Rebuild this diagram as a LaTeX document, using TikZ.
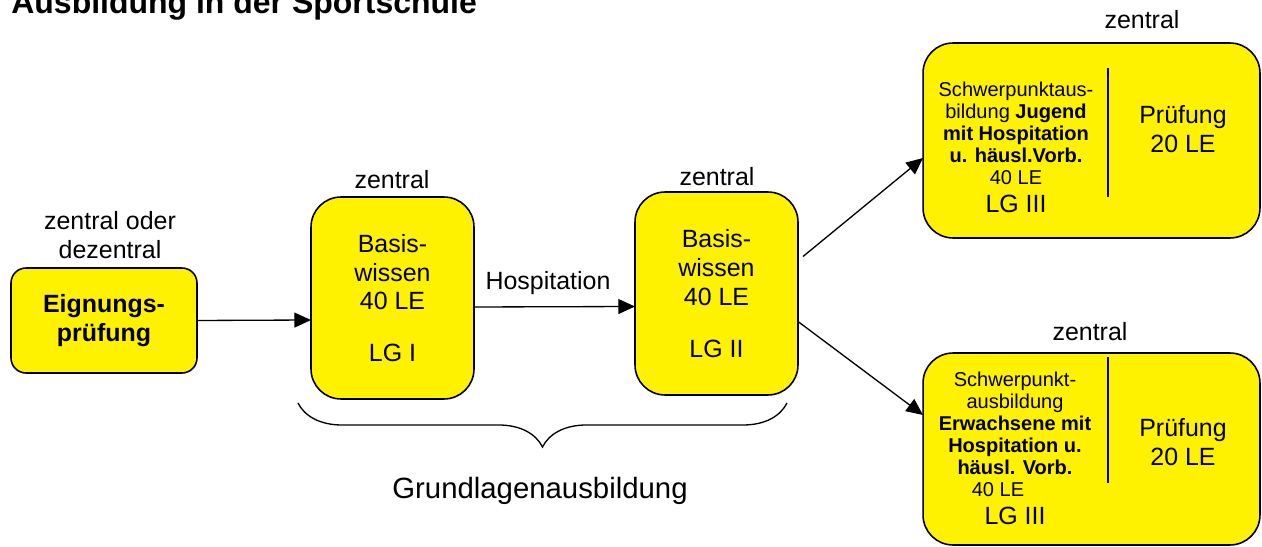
\documentclass[tikz,border=0pt]{standalone}
\usepackage{fontspec}
\setmainfont{Liberation Sans}
\usetikzlibrary{arrows.meta}
\usetikzlibrary{decorations.pathreplacing}
\usetikzlibrary{positioning}
\tikzset{box/.style = {draw, line width=0.9pt, fill=yellow, rounded corners=0.6cm,
                       inner sep=0, outer sep=0}}
\tikzset{txt/.style = {font=\fontsize{14.2}{16.5}\selectfont, align=center, inner sep=0}}
\tikzset{kleintext/.style = {font=\fontsize{11.4}{12.6}\selectfont, align=center, inner sep=0}}
\tikzset{pfeil/.style = {-{Triangle[length=9.5pt,width=8.5pt]}, line width=0.75pt}}

\begin{document}
\begin{tikzpicture}[x=0.02cm, y=-0.02cm]
    \useasboundingbox (0,0) rectangle (1262,547);
    \node [anchor=base west, inner sep=0, font=\fontsize{18.2}{21}\selectfont\bfseries] (titel) at (11,14) {Ausbildung in der Sportschule};

    % Eignungspruefung
    \node [box, txt, rounded corners=0.3cm, minimum width=3.72cm, minimum height=2.1cm,
           font=\fontsize{14.2}{16.5}\selectfont\bfseries] (eign) at (104,320.5) {Eignungs-\\prüfung};
    \node [txt] (eignort) at (110,235) {zentral oder\\dezentral};

    % Grundlagen
    \node [box, txt, minimum width=3.26cm, minimum height=4.04cm] (lg1) at (392.5,298) {Basis-\\wissen\\40 LE\\[13pt]LG I};
    \node [txt] (lg1ort) at (392,180) {zentral};
    \node [box, txt, minimum width=3.26cm, minimum height=4.06cm] (lg2) at (716.5,293.5) {Basis-\\wissen\\40 LE\\[13pt]LG II};
    \node [txt] (lg2ort) at (717,177) {zentral};
    \node [txt] (hosp) at (548,283) {Hospitation};

    \draw [decorate, decoration={brace, mirror, amplitude=0.88cm}, line width=0.75pt] (298,403) -- (787,403);
    \node [txt, font=\fontsize{16.7}{19}\selectfont] (grundl) at (540,491) {Grundlagenausbildung};

    % Schwerpunkt Jugend
    \node [box, minimum width=6.74cm, minimum height=3.9cm] (jugend) at (1091.5,140.5) {};
    \node [kleintext] (jugendtxt) at (1016,147) {Schwerpunktaus-\\bildung \textbf{Jugend}\\\textbf{mit Hospitation}\\\textbf{u. häusl.Vorb.}\\40 LE\\[3pt]{\fontsize{14.2}{16.5}\selectfont LG III}};
    \node [txt] (jugendpr) at (1183,129) {Prüfung\\20 LE};
    \draw [line width=0.75pt] (1108,68) -- (1108,197);
    \node [txt] (jugendort) at (1142,20) {zentral};

    % Schwerpunkt Erwachsene
    \node [box, minimum width=6.74cm, minimum height=3.84cm] (erw) at (1091.5,449) {};
    \node [kleintext] (erwtxt) at (1015,448) {Schwerpunkt-\\ausbildung\\\textbf{Erwachsene mit}\\\textbf{Hospitation u.}\\\textbf{häusl. Vorb.}\\40 LE\hspace*{0.68cm}\mbox{}\\[3pt]{\fontsize{14.2}{16.5}\selectfont LG III}};
    \node [txt] (erwpr) at (1183,442) {Prüfung\\20 LE};
    \draw [line width=0.75pt] (1108,357) -- (1108,483);
    \node [txt] (erwort) at (1090,332) {zentral};

    \draw [pfeil] (eign.east) -- ([yshift=-0.44cm]lg1.west);
    \draw [pfeil] ([yshift=-0.18cm]lg1.east) -- ([yshift=-0.26cm]lg2.west);
    \draw [pfeil] ([xshift=0.1cm, yshift=0.74cm]lg2.east) -- ([yshift=-0.35cm]jugend.west);
    \draw [pfeil] ([yshift=-0.56cm]lg2.east) -- ([yshift=0.68cm]erw.west);
  \end{tikzpicture}
\end{document}
